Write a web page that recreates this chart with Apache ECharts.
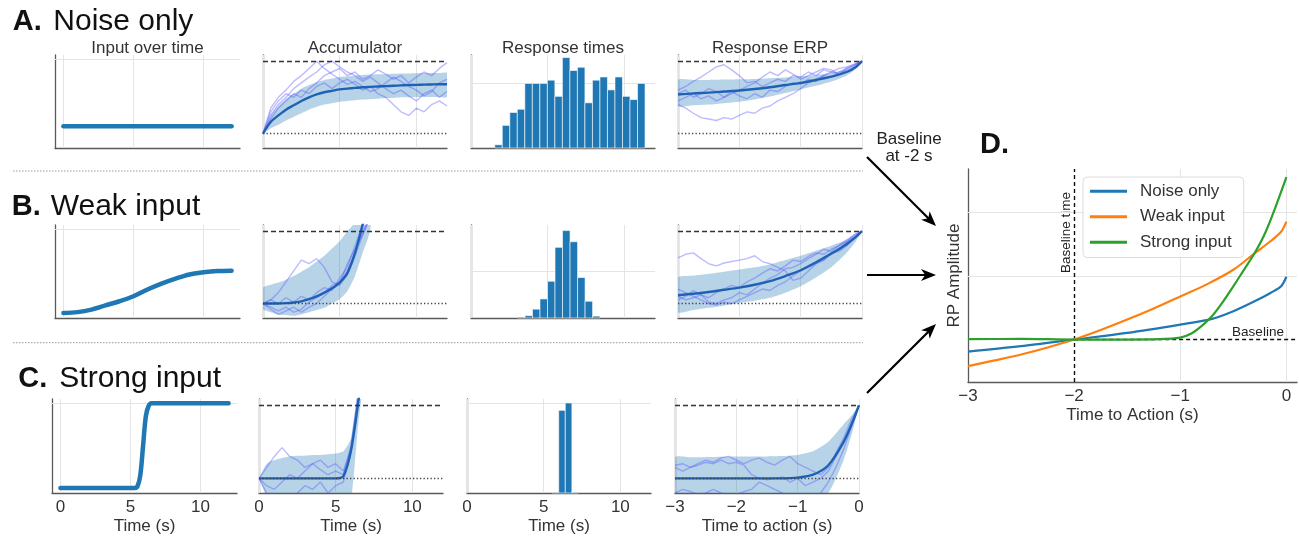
<!DOCTYPE html>
<html>
<head>
<meta charset="utf-8">
<script src="https://cdn.jsdelivr.net/npm/echarts@6/dist/echarts.min.js"></script>
<style>
  html, body { margin: 0; padding: 0; background: #fff; }
  #fig { width: 1299px; height: 539px; }
</style>
</head>
<body>
<div id="fig"></div>
<script>
// ---- data ----
// input over time (arbitrary units, 0..1)
var inputNoiseX = [0, 12];
var inputNoise = [0.2, 0.2];
var inputWeakX = [0, 1, 2, 3, 4, 5, 6, 7, 8, 9, 10, 11, 12];
var inputWeak = [0, 0.01, 0.04, 0.09, 0.14, 0.2, 0.28, 0.35, 0.41, 0.46, 0.485, 0.5, 0.505];
var inputStrongX = [0, 5.3, 5.5, 5.7, 5.9, 6.1, 6.3, 6.5, 12];
var inputStrong = [0, 0, 0.02, 0.15, 0.5, 0.85, 0.97, 1, 1];

// accumulator, time axis
var accX = [0, 0.5, 1, 1.5, 2, 2.5, 3, 3.5, 4, 4.5, 5, 5.5, 6, 6.5, 7, 7.5, 8, 8.5, 9, 9.5, 10, 10.5, 11, 11.5, 12];
var accXShort = [0, 0.5, 1, 1.5, 2, 2.5, 3, 3.5, 4, 4.5, 5, 5.5, 6, 6.5, 7];

var accNoiseMean = [0, 0.16, 0.25, 0.33, 0.39, 0.45, 0.5, 0.54, 0.57, 0.59, 0.61, 0.62, 0.63, 0.64, 0.645, 0.65, 0.655, 0.66, 0.665, 0.67, 0.672, 0.675, 0.678, 0.68, 0.68];
var accNoiseHi = [0, 0.25, 0.38, 0.48, 0.55, 0.62, 0.67, 0.71, 0.74, 0.76, 0.78, 0.79, 0.8, 0.81, 0.815, 0.82, 0.82, 0.825, 0.83, 0.83, 0.833, 0.835, 0.835, 0.835, 0.835];
var accNoiseLo = [0, 0.07, 0.12, 0.18, 0.23, 0.28, 0.33, 0.37, 0.4, 0.42, 0.44, 0.45, 0.46, 0.47, 0.475, 0.48, 0.49, 0.49, 0.5, 0.5, 0.505, 0.505, 0.505, 0.505, 0.505];
var accNoiseTraces = [
  [0, 0.25, 0.4, 0.5, 0.62, 0.7, 0.78, 0.85, 0.95, 1.0, 0.92, 0.85, 0.8, 0.72, 0.78, 0.7, 0.62, 0.55, 0.6, 0.52, 0.45, 0.55, 0.6, 0.5, 0.58],
  [0, 0.3, 0.45, 0.55, 0.5, 0.6, 0.55, 0.65, 0.7, 0.62, 0.7, 0.75, 0.68, 0.6, 0.65, 0.55, 0.5, 0.4, 0.3, 0.25, 0.35, 0.3, 0.4, 0.45, 0.38],
  [0, 0.2, 0.35, 0.45, 0.55, 0.5, 0.62, 0.7, 0.8, 0.85, 0.9, 0.8, 0.85, 0.75, 0.8, 0.88, 0.82, 0.75, 0.8, 0.7, 0.78, 0.85, 0.8, 0.9, 0.98],
  [0, 0.35, 0.5, 0.6, 0.72, 0.8, 0.9, 1.0, 0.9, 0.82, 0.75, 0.68, 0.72, 0.65, 0.58, 0.62, 0.7, 0.78, 0.72, 0.65, 0.6, 0.52, 0.58, 0.7, 0.75]
];

var accWeakMean = [0, 0, 0, 0.005, 0.015, 0.03, 0.06, 0.1, 0.15, 0.21, 0.29, 0.42, 0.7, 1.09, 1.5];
var accWeakHi = [0.22, 0.26, 0.29, 0.33, 0.38, 0.44, 0.5, 0.58, 0.66, 0.76, 0.86, 1.0, 1.12, 1.3, 1.6];
var accWeakLo = [-0.08, -0.12, -0.15, -0.16, -0.17, -0.15, -0.12, -0.09, -0.06, 0.0, 0.06, 0.17, 0.38, 0.7, 1.02];
var accWeakTraces = [
  [0, 0.05, 0.15, 0.3, 0.45, 0.6, 0.55, 0.62, 0.5, 0.3, 0.25, 0.4, 0.65, 0.95, 1.2],
  [0, -0.05, -0.1, -0.05, -0.12, -0.08, 0.02, 0.08, 0.15, 0.25, 0.3, 0.45, 0.7, 1.0, 1.2],
  [0, 0.05, 0.0, 0.08, 0.02, 0.1, 0.05, 0.15, 0.22, 0.18, 0.35, 0.5, 0.8, 1.1, 1.2],
  [0, -0.08, -0.15, -0.1, -0.05, -0.12, -0.05, 0.0, 0.1, 0.2, 0.28, 0.55, 0.75, 0.95, 1.2]
];

var accStrongMean = [0, 0, 0, 0, 0, 0, 0, 0, 0, 0, 0, 0.03, 0.38, 1.08, 1.8];
var accStrongHi = [0, 0.2, 0.25, 0.28, 0.3, 0.31, 0.31, 0.32, 0.32, 0.33, 0.34, 0.37, 0.55, 1.35, 2.0];
var accStrongLo = [0, -0.25, -0.35, -0.4, -0.42, -0.43, -0.44, -0.45, -0.45, -0.46, -0.46, -0.46, -0.3, 0.8, 1.6];
var accStrongTraces = [
  [0, 0.15, 0.3, 0.42, 0.3, 0.25, 0.15, 0.2, 0.12, 0.05, 0.1, 0.05, 0.45, 1.2, 1.8],
  [0, -0.1, -0.15, -0.05, 0.05, 0.0, 0.1, 0.2, 0.25, 0.15, 0.2, 0.1, 0.4, 1.15, 1.8],
  [0, -0.2, -0.3, -0.25, -0.35, -0.2, -0.1, -0.15, -0.05, -0.2, -0.1, -0.05, 0.35, 1.1, 1.8]
];

// response time histograms: bin left edges, bin width, counts
var rtNoiseEdges = [1.55, 2.04, 2.53, 3.02, 3.51, 4.0, 4.49, 4.98, 5.47, 5.96, 6.45, 6.94, 7.43, 7.92, 8.41, 8.9, 9.39, 9.88, 10.37, 10.86];
var rtNoiseWidth = 0.49;
var rtNoiseCounts = [1, 7, 11, 12, 20, 20, 20, 21, 16, 28, 24, 25, 14, 21, 22, 18, 22, 16, 15, 20];
var rtWeakEdges = [3.03, 3.52, 4.01, 4.5, 4.99, 5.48, 5.97, 6.46, 6.95, 7.44, 7.93];
var rtWeakWidth = 0.49;
var rtWeakCounts = [2, 5, 19, 41, 79, 152, 188, 164, 87, 36, 4];
var rtStrongEdges = [5.55, 5.98, 6.41, 6.84];
var rtStrongWidth = 0.43;
var rtStrongCounts = [4, 459, 500, 4];

// response-locked ERP, time to action
var erpX = [-3, -2.875, -2.75, -2.625, -2.5, -2.375, -2.25, -2.125, -2, -1.875, -1.75, -1.625, -1.5, -1.375, -1.25, -1.125, -1, -0.875, -0.75, -0.625, -0.5, -0.375, -0.25, -0.125, 0];
var erpMeanX = [-3, -2.75, -2.5, -2.25, -2, -1.75, -1.5, -1.25, -1, -0.75, -0.5, -0.25, -0.1, 0];

var erpNoiseMean = [0.54, 0.555, 0.565, 0.58, 0.595, 0.615, 0.64, 0.67, 0.7, 0.74, 0.785, 0.85, 0.92, 1.0];
var erpNoiseHi = [0.74, 0.74, 0.74, 0.745, 0.75, 0.755, 0.765, 0.775, 0.79, 0.81, 0.84, 0.88, 0.94, 1.0];
var erpNoiseLo = [0.38, 0.39, 0.4, 0.42, 0.44, 0.47, 0.51, 0.56, 0.61, 0.66, 0.72, 0.8, 0.89, 1.0];
var erpNoiseTraces = [
  [0.6, 0.65, 0.72, 0.78, 0.85, 0.92, 0.95, 0.88, 0.8, 0.7, 0.72, 0.65, 0.7, 0.75, 0.72, 0.8, 0.78, 0.85, 0.8, 0.88, 0.85, 0.9, 0.92, 0.96, 1.0],
  [0.4, 0.35, 0.28, 0.22, 0.2, 0.18, 0.22, 0.2, 0.25, 0.3, 0.28, 0.35, 0.38, 0.45, 0.5, 0.55, 0.62, 0.7, 0.75, 0.8, 0.78, 0.85, 0.9, 0.95, 1.0],
  [0.55, 0.6, 0.5, 0.55, 0.62, 0.58, 0.5, 0.55, 0.6, 0.65, 0.7, 0.78, 0.85, 0.8, 0.88, 0.82, 0.75, 0.8, 0.85, 0.9, 0.88, 0.82, 0.9, 0.95, 1.0],
  [0.45, 0.5, 0.55, 0.48, 0.52, 0.45, 0.5, 0.58, 0.52, 0.48, 0.55, 0.5, 0.6, 0.58, 0.65, 0.7, 0.68, 0.75, 0.72, 0.8, 0.85, 0.82, 0.88, 0.93, 1.0]
];

var erpWeakMean = [0.115, 0.135, 0.16, 0.19, 0.22, 0.26, 0.31, 0.38, 0.46, 0.57, 0.69, 0.82, 0.92, 1.0];
var erpWeakHi = [0.36, 0.385, 0.41, 0.44, 0.47, 0.5, 0.54, 0.6, 0.66, 0.73, 0.8, 0.88, 0.95, 1.0];
var erpWeakLo = [-0.12, -0.09, -0.06, -0.03, 0.01, 0.04, 0.08, 0.15, 0.24, 0.36, 0.5, 0.7, 0.86, 1.0];
var erpWeakTraces = [
  [0.63, 0.68, 0.7, 0.62, 0.55, 0.52, 0.56, 0.58, 0.6, 0.62, 0.66, 0.58, 0.55, 0.5, 0.45, 0.32, 0.35, 0.45, 0.55, 0.6, 0.68, 0.75, 0.85, 0.92, 1.0],
  [0.1, 0.05, 0.08, 0.12, 0.02, 0.0, 0.05, 0.08, 0.15, 0.12, 0.2, 0.28, 0.35, 0.4, 0.48, 0.5, 0.55, 0.62, 0.68, 0.75, 0.72, 0.8, 0.85, 0.95, 1.0],
  [0.2, 0.15, 0.1, 0.05, 0.0, -0.02, 0.02, 0.0, 0.05, 0.1, 0.15, 0.2, 0.18, 0.25, 0.3, 0.38, 0.45, 0.5, 0.55, 0.6, 0.7, 0.72, 0.8, 0.9, 1.0],
  [0.05, 0.1, 0.18, 0.12, 0.08, 0.15, 0.2, 0.25, 0.22, 0.3, 0.35, 0.42, 0.48, 0.45, 0.52, 0.6, 0.58, 0.65, 0.7, 0.68, 0.75, 0.8, 0.88, 0.95, 1.0]
];

var erpStrongMean = [0, 0, 0, 0, 0, 0, 0, 0, 0.01, 0.05, 0.18, 0.5, 0.78, 1.0];
var erpStrongHi = [0.29, 0.29, 0.29, 0.295, 0.3, 0.3, 0.3, 0.305, 0.32, 0.37, 0.5, 0.74, 0.88, 1.0];
var erpStrongLo = [-0.35, -0.35, -0.35, -0.35, -0.35, -0.35, -0.35, -0.35, -0.34, -0.3, -0.2, 0.25, 0.66, 1.0];
var erpStrongTraces = [
  [0.18, 0.2, 0.15, 0.18, 0.22, 0.2, 0.25, 0.2, 0.22, 0.18, 0.05, 0.0, -0.02, 0.0, 0.02, -0.05, 0.0, -0.1, -0.05, 0.0, 0.1, 0.3, 0.5, 0.75, 1.0],
  [0.15, 0.1, 0.15, 0.2, 0.25, 0.22, 0.28, 0.3, 0.25, 0.2, 0.25, 0.28, 0.22, 0.18, 0.25, 0.3, 0.2, 0.15, 0.1, 0.05, 0.15, 0.35, 0.55, 0.8, 1.0],
  [-0.2, -0.15, -0.18, -0.22, -0.2, -0.15, -0.2, -0.25, -0.22, -0.18, -0.15, -0.05, -0.1, -0.15, -0.2, -0.25, -0.3, -0.35, -0.3, -0.2, -0.05, 0.15, 0.4, 0.7, 1.0]
];

// panel D: baseline-corrected RP
var rpNames = ['Noise only', 'Weak input', 'Strong input'];
var rpNoiseX = [-3, -2.5, -2, -1.5, -1, -0.7, -0.5, -0.3, -0.15, -0.05, 0];
var rpNoise = [-0.19, -0.105, 0, 0.105, 0.236, 0.325, 0.446, 0.603, 0.735, 0.84, 0.99];
var rpWeakX = [-3, -2.75, -2.5, -2.25, -2, -1.75, -1.5, -1.25, -1, -0.75, -0.5, -0.3, -0.15, -0.05, 0];
var rpWeak = [-0.42, -0.33, -0.236, -0.125, 0, 0.15, 0.315, 0.49, 0.68, 0.87, 1.1, 1.36, 1.55, 1.7, 1.86];
var rpStrongX = [-3, -2.5, -2, -1.5, -1.2, -1, -0.9, -0.8, -0.7, -0.6, -0.5, -0.4, -0.3, -0.2, -0.1, 0];
var rpStrong = [0.005, 0.01, 0, 0, 0.005, 0.03, 0.09, 0.21, 0.37, 0.59, 0.84, 1.1, 1.36, 1.68, 2.1, 2.56];

var timeTicks = [0, 5, 10];
var erpTicks = [-3, -2, -1, 0];

// ---- drawing ----
var FONT = 'Liberation Sans';
var BLUE = '#1f77b4';
var MEAN = '#1f62b4';
var BAND = 'rgba(31,119,180,0.32)';
var TRACE = 'rgba(80,80,255,0.38)';
var SPINE = '#5a5a5a';
var GRIDC = '#e4e4e4';
var TXT = '#333';

var chart = echarts.init(document.getElementById('fig'));

function pair(xs, ys) { return xs.map(function (x, i) { return [x, ys[i]]; }); }
function minusFmt(v) { return v < 0 ? '\u2212' + Math.abs(v) : String(v); }

var grids = [], xAxes = [], yAxes = [], series = [];

function panel(left, y0, width, height, xOpt, yOpt) {
  var g = grids.length;
  grids.push({ left: left, top: y0, width: width, height: height });
  var base = {
    type: 'value', gridIndex: g,
    axisLine: { show: true, onZero: false, lineStyle: { color: SPINE, width: 1.3 } },
    axisTick: { show: false }, axisLabel: { show: false }, splitLine: { show: false }
  };
  xAxes.push(Object.assign({}, base, xOpt));
  yAxes.push(Object.assign({}, base, yOpt));
  return g;
}

function guides(g, anchor, lines, z) {
  series.push({
    type: 'line', xAxisIndex: g, yAxisIndex: g, data: [anchor], symbol: 'none',
    lineStyle: { opacity: 0 }, silent: true, animation: false,
    markLine: { z: z, silent: true, symbol: 'none', animation: false, label: { show: false }, data: lines }
  });
}
function gridLines(xs, ys) {
  var st = { color: GRIDC, width: 1, type: 'solid' };
  return xs.map(function (v) { return { xAxis: v, lineStyle: st }; })
    .concat(ys.map(function (v) { return { yAxis: v, lineStyle: st }; }));
}
function thresholds() {
  return [
    { yAxis: 1, lineStyle: { color: '#333', width: 1.4, type: [5, 3] } },
    { yAxis: 0, lineStyle: { color: '#444', width: 1.3, type: [1.3, 2.2] } }
  ];
}

function line(g, xs, ys, color, width, z, extra) {
  series.push(Object.assign({
    type: 'line', xAxisIndex: g, yAxisIndex: g, data: pair(xs, ys), symbol: 'none',
    silent: true, animation: false, z: z, lineStyle: { color: color, width: width }
  }, extra || {}));
}
// shaded mean +/- sd band, drawn once as a polygon clipped to the plot area
function band(g, xs, lo, hi) {
  series.push({
    type: 'custom', xAxisIndex: g, yAxisIndex: g, silent: true, animation: false, z: 2,
    data: xs.map(function (x, i) { return [x, lo[i], hi[i]]; }),
    encode: { x: 0, y: [1, 2] },
    renderItem: function (params, api) {
      if (params.dataIndex !== 0) return;
      var pts = [], i;
      for (i = 0; i < xs.length; i++) pts.push(api.coord([xs[i], hi[i]]));
      for (i = xs.length - 1; i >= 0; i--) pts.push(api.coord([xs[i], lo[i]]));
      var cs = params.coordSys;
      return {
        type: 'polygon', shape: { points: pts, smooth: 0.2 },
        style: { fill: BAND },
        clipPath: { type: 'rect', shape: { x: cs.x, y: cs.y, width: cs.width, height: cs.height } }
      };
    }
  });
}
function hist(g, edges, width, counts) {
  series.push({
    type: 'custom', xAxisIndex: g, yAxisIndex: g, silent: true, animation: false, z: 3,
    data: edges.map(function (e, i) { return [e, e + width, counts[i]]; }),
    encode: { x: [0, 1], y: 2 },
    renderItem: function (params, api) {
      var p0 = api.coord([api.value(0), api.value(2)]);
      var p1 = api.coord([api.value(1), 0]);
      return {
        type: 'rect',
        shape: { x: p0[0], y: p0[1], width: p1[0] - p0[0], height: p1[1] - p0[1] },
        style: { fill: BLUE, stroke: 'rgba(255,255,255,0.75)', lineWidth: 0.8 }
      };
    }
  });
}

var rowTop = [55, 225, 399];
var rowH = [93, 93, 94];
var colLeft = [[55, 263, 471, 678], [55, 263, 471, 678], [52, 259, 467, 675]];
var colW = [185, 184, 184, 184];

var inputs = [[inputNoiseX, inputNoise], [inputWeakX, inputWeak], [inputStrongX, inputStrong]];
var accs = [
  [accX, accNoiseMean, accNoiseLo, accNoiseHi, accNoiseTraces],
  [accXShort, accWeakMean, accWeakLo, accWeakHi, accWeakTraces],
  [accXShort, accStrongMean, accStrongLo, accStrongHi, accStrongTraces]
];
var hists = [
  [rtNoiseEdges, rtNoiseWidth, rtNoiseCounts, 28.8, 20],
  [rtWeakEdges, rtWeakWidth, rtWeakCounts, 200, 100],
  [rtStrongEdges, rtStrongWidth, rtStrongCounts, 522, 500]
];
var erps = [
  [erpNoiseMean, erpNoiseLo, erpNoiseHi, erpNoiseTraces],
  [erpWeakMean, erpWeakLo, erpWeakHi, erpWeakTraces],
  [erpStrongMean, erpStrongLo, erpStrongHi, erpStrongTraces]
];

function labelStyle() { return { fontSize: 17, color: TXT, fontFamily: FONT }; }
function bottomX(ticks, name, fmt) {
  var ax = {
    axisLabel: Object.assign({ show: true, customValues: ticks, margin: 6 }, labelStyle()),
    axisTick: { show: false, customValues: ticks },
    name: name, nameLocation: 'middle', nameGap: 25, nameTextStyle: labelStyle()
  };
  if (fmt) ax.axisLabel.formatter = fmt;
  return ax;
}

for (var r = 0; r < 3; r++) {
  var last = r === 2;
  var y0 = rowTop[r], h = rowH[r];

  // input over time
  var g = panel(colLeft[r][0], y0, colW[0], h,
    Object.assign({ min: -0.6, max: 12.6 }, last ? bottomX(timeTicks, 'Time (s)') : {}),
    { min: -0.06, max: 1.05 });
  guides(g, [0, 0], gridLines(timeTicks, [1]), 1);
  line(g, inputs[r][0], inputs[r][1], BLUE, 4.5, 3, { smooth: 0.35, lineStyle: { color: BLUE, width: 4.5, cap: 'round' } });

  // accumulator
  var a = accs[r];
  g = panel(colLeft[r][1], y0, colW[1], h,
    Object.assign({ min: 0, max: 12 }, last ? bottomX(timeTicks, 'Time (s)') : {}),
    { min: -0.2, max: 1.085 });
  guides(g, [0, 0], gridLines(timeTicks, []), 1);
  band(g, a[0], a[2], a[3]);
  a[4].forEach(function (t) { line(g, a[0], t, TRACE, 1.4, 3); });
  line(g, a[0], a[1], MEAN, 2.4, 4, { smooth: 0.3 });
  guides(g, [0, 0], thresholds(), 5);

  // response time histogram
  var hs = hists[r];
  g = panel(colLeft[r][2], y0, colW[2], h,
    Object.assign({ min: 0, max: 12 }, last ? bottomX(timeTicks, 'Time (s)') : {}),
    { min: 0, max: hs[3] });
  guides(g, [0, 0], gridLines(timeTicks, [hs[4]]), 1);
  hist(g, hs[0], hs[1], hs[2]);

  // response-locked ERP
  var e = erps[r];
  g = panel(colLeft[r][3], y0, colW[3], h,
    Object.assign({ min: -3, max: 0 }, last ? bottomX(erpTicks, 'Time to action (s)', minusFmt) : {}),
    { min: -0.2, max: 1.085 });
  guides(g, [-3, 0], gridLines(erpTicks, []), 1);
  band(g, erpMeanX, e[1], e[2]);
  e[3].forEach(function (t) { line(g, erpX, t, TRACE, 1.4, 3); });
  line(g, erpMeanX, e[0], MEAN, 2.4, 4, { smooth: 0.3 });
  guides(g, [-3, 0], thresholds(), 5);
}

// panel D
var gd = panel(968, 169, 329, 213, {
  min: -3, max: 0.1,
  axisLabel: Object.assign({ show: true, customValues: erpTicks, margin: 6, formatter: minusFmt }, labelStyle()),
  name: 'Time to Action (s)', nameLocation: 'middle', nameGap: 25, nameTextStyle: labelStyle()
}, {
  min: -0.67, max: 2.69,
  name: 'RP Amplitude', nameLocation: 'middle', nameGap: 5, nameTextStyle: labelStyle()
});
guides(gd, [-3, 0], gridLines([-1, 0], [1, 2]), 1);
guides(gd, [-3, 0], [
  { xAxis: -2, lineStyle: { color: '#111', width: 1.4, type: [4, 3] } },
  [{ coord: [-2, 0], lineStyle: { color: '#111', width: 1.4, type: [4, 3] } }, { coord: [0.1, 0] }]
], 1);
var rpColors = ['#1f77b4', '#ff7f0e', '#2ca02c'];
var rpData = [[rpNoiseX, rpNoise], [rpWeakX, rpWeak], [rpStrongX, rpStrong]];
rpData.forEach(function (d, i) {
  line(gd, d[0], d[1], rpColors[i], 2.2, 3, { name: rpNames[i], smooth: 0.3, itemStyle: { color: rpColors[i] } });
});

// ---- annotations ----
function txt(x, y, s, font, extra) {
  return {
    type: 'text', x: x, y: y, silent: true,
    style: Object.assign({ text: s, font: font, fill: '#111', align: 'left', verticalAlign: 'middle' }, extra || {})
  };
}
function arrow(x1, y1, x2, y2) {
  var dx = x2 - x1, dy = y2 - y1, L = Math.sqrt(dx * dx + dy * dy);
  var ux = dx / L, uy = dy / L, len = 15, w = 6;
  var bx = x2 - ux * len, by = y2 - uy * len;
  return [
    { type: 'line', silent: true, shape: { x1: x1, y1: y1, x2: x2 - ux * 8, y2: y2 - uy * 8 }, style: { stroke: '#000', lineWidth: 2.2 } },
    { type: 'polygon', silent: true, shape: { points: [[x2, y2], [bx - uy * w, by + ux * w], [x2 - ux * len * 0.72, y2 - uy * len * 0.72], [bx + uy * w, by - ux * w]] }, style: { fill: '#000' } }
  ];
}

var bigB = 'bold 29px "' + FONT + '"';
var bigR = '30px "' + FONT + '"';
var midR = '17px "' + FONT + '"';
var smR = '13.5px "' + FONT + '"';

var graphics = [
  txt(12.7, 22, 'A.', bigB), txt(53.3, 22, 'Noise only', bigR),
  txt(11.7, 206.7, 'B.', bigB), txt(50.7, 206.7, 'Weak input', bigR),
  txt(18.3, 379, 'C.', bigB), txt(59.3, 379, 'Strong input', bigR),
  txt(980, 145, 'D.', bigB),
  txt(147.5, 48, 'Input over time', midR, { align: 'center', fill: TXT }),
  txt(355, 48, 'Accumulator', midR, { align: 'center', fill: TXT }),
  txt(563, 48, 'Response times', midR, { align: 'center', fill: TXT }),
  txt(770, 48, 'Response ERP', midR, { align: 'center', fill: TXT }),
  txt(909, 139.3, 'Baseline', midR, { align: 'center', fill: '#222' }),
  txt(909, 156.7, 'at -2 s', midR, { align: 'center', fill: '#222' }),
  txt(1258, 332.5, 'Baseline', smR, { align: 'center', fill: '#222' }),
  { type: 'text', x: 1066.5, y: 232.5, rotation: Math.PI / 2, silent: true,
    style: { text: 'Baseline time', font: smR, fill: '#222', align: 'center', verticalAlign: 'middle' } },
  { type: 'line', silent: true, shape: { x1: 13, y1: 171, x2: 863, y2: 171 }, style: { stroke: '#9a9a9a', lineWidth: 1, lineDash: [1.5, 1.5] } },
  { type: 'line', silent: true, shape: { x1: 13, y1: 342.7, x2: 863, y2: 342.7 }, style: { stroke: '#9a9a9a', lineWidth: 1, lineDash: [1.5, 1.5] } }
].concat(arrow(867, 157, 936, 226), arrow(867, 275, 936, 275), arrow(867, 393, 936, 324));

chart.setOption({
  animation: false,
  textStyle: { fontFamily: FONT },
  grid: grids,
  xAxis: xAxes,
  yAxis: yAxes,
  legend: {
    data: rpNames, orient: 'vertical', left: 1083, top: 177,
    icon: 'rect', itemWidth: 37, itemHeight: 3, itemGap: 7,
    padding: [5, 12, 6, 7],
    textStyle: { fontSize: 17, fontFamily: FONT, color: TXT, lineHeight: 18.5, padding: [0, 0, 0, 8] },
    borderColor: '#dcdcdc', borderWidth: 1, borderRadius: 4, backgroundColor: 'rgba(255,255,255,0.85)'
  },
  series: series,
  graphic: graphics
});
</script>
</body>
</html>
